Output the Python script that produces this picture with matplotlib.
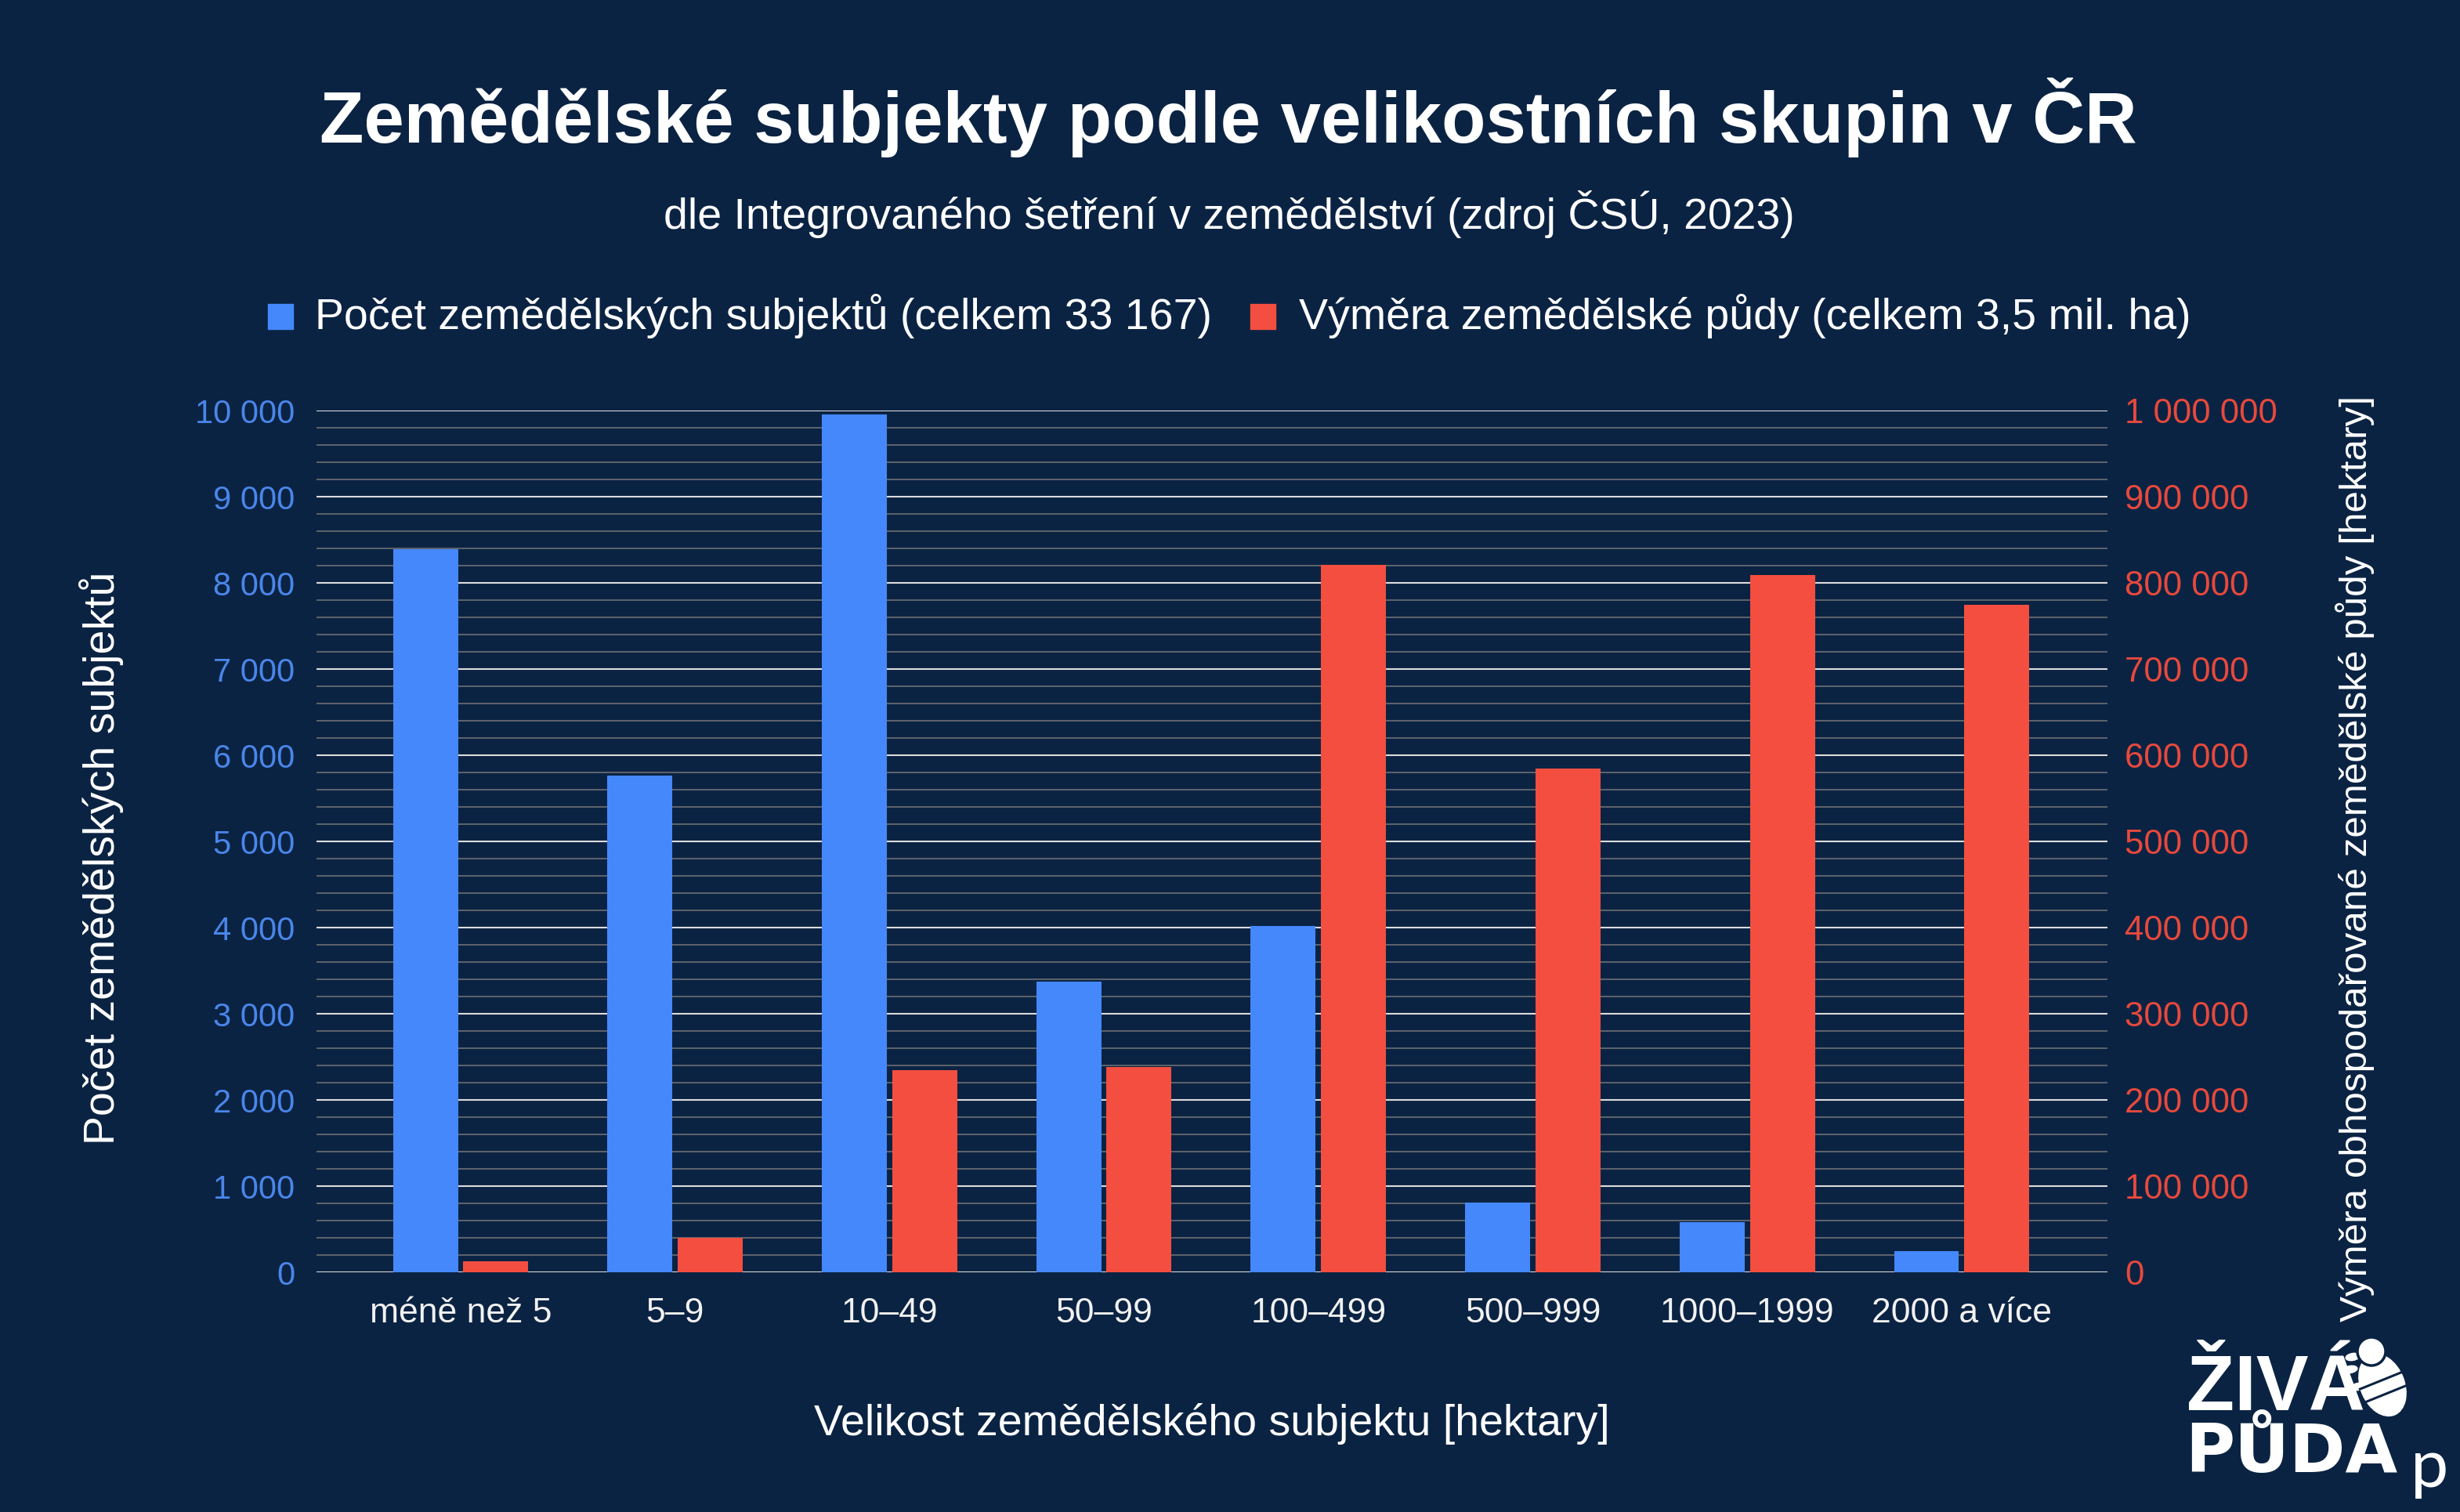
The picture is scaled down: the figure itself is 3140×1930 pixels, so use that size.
import numpy as np
import matplotlib
matplotlib.use("Agg")
import matplotlib.pyplot as plt
from matplotlib.ticker import MultipleLocator, FuncFormatter
from matplotlib.patches import Rectangle, Ellipse, Circle

plt.rcParams['font.family'] = ['Liberation Sans', 'DejaVu Sans']

categories = ['méně než 5', '5–9', '10–49', '50–99', '100–499', '500–999', '1000–1999', '2000 a více']
subjects = [8395, 5760, 9955, 3370, 4015, 805, 580, 245]
area_ha = [13000, 40000, 235000, 238500, 820500, 584500, 809500, 775000]

title = 'Zemědělské subjekty podle velikostních skupin v ČR'
subtitle = 'dle Integrovaného šetření v zemědělství (zdroj ČSÚ, 2023)'
legend_labels = ['Počet zemědělských subjektů (celkem 33 167)',
                 'Výměra zemědělské půdy (celkem 3,5 mil. ha)']
xlabel = 'Velikost zemědělského subjektu [hektary]'
ylabel_left = 'Počet zemědělských subjektů'
ylabel_right = 'Výměra obhospodařované zemědělské půdy [hektary]'

BG = '#0b2343'
BLUE = '#4488fb'
RED = '#f34e3f'
BLUE_TXT = '#4a86ea'
RED_TXT = '#e8493c'

W, H = 3140, 1930
fig = plt.figure(figsize=(W / 100, H / 100), dpi=100, facecolor=BG)

# plot area in pixels: x 404..2690, y 524..1624
ax = fig.add_axes([404 / W, 1 - 1624 / H, 2286 / W, 1100 / H])
ax.set_facecolor(BG)
ax2 = ax.twinx()

x = np.arange(len(categories))
bw = 0.303
off = 0.164
ax.bar(x - off, subjects, bw, color=BLUE, zorder=3)
ax2.bar(x + off, area_ha, bw, color=RED, zorder=3)

# gridlines run past the outer categories
ax.set_xlim(-0.672, len(categories) - 0.32)
ax.set_ylim(0, 10000)
ax2.set_ylim(0, 1000000)

ax.yaxis.set_major_locator(MultipleLocator(1000))
ax.yaxis.set_minor_locator(MultipleLocator(200))
ax2.yaxis.set_major_locator(MultipleLocator(100000))

fmt = FuncFormatter(lambda v, p: f'{int(v):,}'.replace(',', ' '))
ax.yaxis.set_major_formatter(fmt)
ax2.yaxis.set_major_formatter(fmt)

ax.set_axisbelow(True)
ax.grid(axis='y', which='major', color='#dcdcdc', lw=1.5)
ax.grid(axis='y', which='minor', color='#6c6f73', lw=1.2)
ax2.grid(False)

for a in (ax, ax2):
    for s in a.spines.values():
        s.set_visible(False)

ax.set_xticks(x)
ax.set_xticklabels(categories)
ax.tick_params(axis='x', length=0, pad=23, labelsize=32, labelcolor='#f2f2f2')
ax.tick_params(axis='y', which='both', length=0, pad=20, labelsize=30, labelcolor=BLUE_TXT)
ax2.tick_params(axis='y', length=0, pad=16, labelsize=31.5, labelcolor=RED_TXT)

# overlay in pixel coordinates for texts, legend and logo
ov = fig.add_axes([0, 0, 1, 1], zorder=10)
ov.set_xlim(0, W)
ov.set_ylim(H, 0)
ov.axis('off')

ov.text(1568, 150, title, ha='center', va='center', fontsize=66.5,
        fontweight='bold', color='white')
ov.text(1569, 274, subtitle, ha='center', va='center', fontsize=40, color='white')

ov.add_patch(Rectangle((342, 388), 32, 32, color=BLUE))
ov.text(402, 404, legend_labels[0], ha='left', va='center', fontsize=40, color='white')
ov.add_patch(Rectangle((1596, 388), 32, 32, color=RED))
ov.text(1658, 404, legend_labels[1], ha='left', va='center', fontsize=40, color='white')

ov.text(1547, 1818, xlabel, ha='center', va='center', fontsize=40, color='white')
ov.text(130, 1095, ylabel_left, ha='center', va='center', rotation=90,
        fontsize=40, color='white')
ov.text(3006, 1096, ylabel_right, ha='center', va='center', rotation=90,
        fontsize=35.6, color='white')

# logo
ov.text(2791, 1800, 'ŽIVÁ', ha='left', va='baseline', fontsize=72,
        fontweight='bold', color='white')
ov.text(2789, 1879, 'PŮDA', ha='left', va='baseline', fontsize=62,
        fontweight='bold', color='white', family=['DejaVu Sans'])
ov.add_patch(Ellipse((3041, 1768), 56, 82, angle=-22, color='white'))
for ex, ey in [(3003, 1732), (3000, 1748), (3010, 1770)]:
    ov.add_patch(Ellipse((ex, ey), 18, 9, angle=-10, color='white'))
for t in (-6, 12):
    cx, cy = 3041 + 0.375 * t, 1768 + 0.927 * t
    ov.plot([cx - 0.927 * 30, cx + 0.927 * 30], [cy + 0.375 * 30, cy - 0.375 * 30],
            color=BG, lw=2.2, solid_capstyle='butt')
ov.add_patch(Circle((3027, 1725), 18, facecolor='white', edgecolor=BG, lw=2.5))
ov.text(3077, 1898, 'p', ha='left', va='baseline', fontsize=62,
        color='white', family=['Lato', 'DejaVu Sans'])

fig.savefig('out.png', dpi=100, facecolor=BG)
